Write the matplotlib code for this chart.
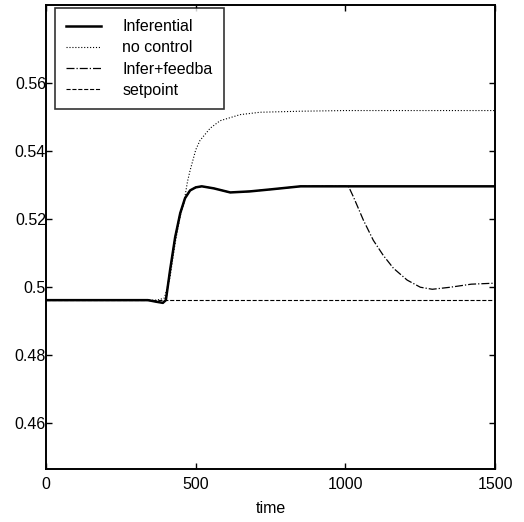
import matplotlib
matplotlib.use("Agg")
import matplotlib.pyplot as plt


# values
inf_time = [0, 340, 370, 390, 400, 414, 431, 448, 464, 481, 500, 520, 560, 615, 680, 750, 850, 1000, 1500]
inf_value = [0.4962, 0.4962, 0.4957, 0.4954, 0.4962, 0.5050, 0.5147, 0.5218, 0.5262, 0.5285,
             0.5294, 0.5297, 0.5291, 0.5279, 0.5282, 0.5288, 0.5297, 0.5297, 0.5297]

noctl_time = [0, 370, 395, 414, 431, 448, 460, 472, 481, 500, 514, 548, 581, 648, 715, 848, 1000, 1500]
noctl_value = [0.4962, 0.4962, 0.4968, 0.5030, 0.5130, 0.5210, 0.5247, 0.5310, 0.5344, 0.5405,
               0.5432, 0.5468, 0.5490, 0.5508, 0.5515, 0.5518, 0.5520, 0.5520]

fb_time = [0, 340, 370, 390, 400, 414, 431, 448, 464, 481, 500, 520, 560, 615, 680, 750, 850, 1010,
           1027, 1060, 1093, 1126, 1160, 1206, 1250, 1290, 1350, 1420, 1500]
fb_value = [0.4962, 0.4962, 0.4957, 0.4954, 0.4962, 0.5050, 0.5147, 0.5218, 0.5262, 0.5285,
            0.5294, 0.5297, 0.5291, 0.5279, 0.5282, 0.5288, 0.5297, 0.5297,
            0.5265, 0.5197, 0.5138, 0.5094, 0.5056, 0.5021, 0.5000, 0.4994, 0.5000, 0.5009, 0.5012]

setpoint_time = [0, 1500]
setpoint_value = [0.4962, 0.4962]

x_ticks = [0, 500, 1000, 1500]
y_ticks = [0.46, 0.48, 0.50, 0.52, 0.54, 0.56]
y_tick_labels = ["0.46", "0.48", "0.5", "0.52", "0.54", "0.56"]

plt.rcParams["font.family"] = ["Liberation Sans", "DejaVu Sans"]

fig = plt.figure(figsize=(5.24, 5.22), dpi=100)
ax = fig.add_axes([0.088, 0.1015, 0.857, 0.8885])

ax.plot(inf_time, inf_value, color="black", linewidth=1.8, linestyle="-", label="Inferential")
ax.plot(noctl_time, noctl_value, color="black", linewidth=0.8, linestyle=":", label="no control")
ax.plot(fb_time, fb_value, color="black", linewidth=0.9, linestyle="-.", label="Infer+feedba")
ax.plot(setpoint_time, setpoint_value, color="black", linewidth=0.8, linestyle="--", label="setpoint")

ax.set_xlim(0, 1500)
ax.set_ylim(0.4465, 0.583)
ax.set_xticks(x_ticks)
ax.set_yticks(y_ticks)
ax.set_yticklabels(y_tick_labels)
ax.tick_params(direction="in", top=True, right=True, length=4, width=1, labelsize=11.5)
ax.tick_params(axis="x", pad=6)
ax.tick_params(axis="y", pad=0)
for spine in ax.spines.values():
    spine.set_linewidth(1.4)

ax.set_xlabel("time", fontsize=11.5, labelpad=6)

leg = ax.legend(loc="upper left", fontsize=11.5, frameon=True, fancybox=False,
                edgecolor="black", handlelength=2.2, handletextpad=1.3, borderpad=0.7,
                labelspacing=0.38, bbox_to_anchor=(0.02, 0.9935), borderaxespad=0)
leg.get_frame().set_linewidth(1.2)

fig.savefig("out.png", dpi=100)
plt.close(fig)
